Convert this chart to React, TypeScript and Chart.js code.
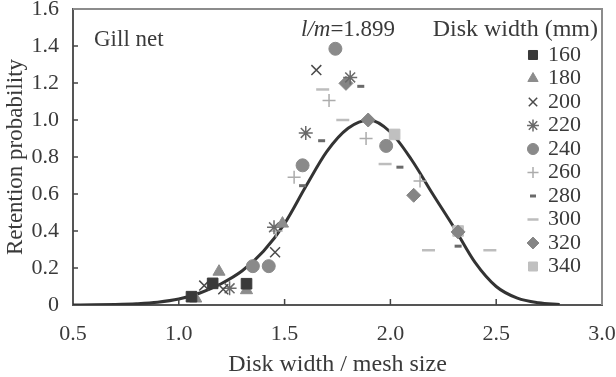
import React, { useEffect, useRef } from 'react';
import { Chart, registerables } from 'chart.js';
import { drawPoint } from 'chart.js/helpers';

Chart.register(...registerables);

// Fitted selectivity curve
const curveX = [0.5, 0.6, 0.7, 0.8, 0.9, 1.0, 1.1, 1.2, 1.3, 1.4, 1.5, 1.6, 1.7, 1.8, 1.9, 2.0, 2.1, 2.2, 2.3, 2.4, 2.5, 2.6, 2.7, 2.8];
const curveY = [0.0, 0.001, 0.003, 0.007, 0.015, 0.032, 0.065, 0.115, 0.185, 0.29, 0.44, 0.64, 0.83, 0.955, 1.0, 0.935, 0.785, 0.6, 0.42, 0.23, 0.1, 0.037, 0.012, 0.003];

// Observed retention by disk width (mm)
const seriesLabels = ['160', '180', '200', '220', '240', '260', '280', '300', '320', '340'];
const s160x = [1.06, 1.16, 1.32];
const s160y = [0.045, 0.117, 0.115];
const s180x = [1.08, 1.19, 1.32, 1.49];
const s180y = [0.035, 0.18, 0.08, 0.44];
const s200x = [1.12, 1.21, 1.455, 1.65];
const s200y = [0.105, 0.085, 0.285, 1.27];
const s220x = [1.24, 1.45, 1.60, 1.81];
const s220y = [0.09, 0.42, 0.93, 1.23];
const s240x = [1.35, 1.425, 1.585, 1.74, 1.98];
const s240y = [0.21, 0.21, 0.755, 1.385, 0.86];
const s260x = [1.46, 1.545, 1.71, 1.885, 2.14];
const s260y = [0.40, 0.69, 1.105, 0.90, 0.67];
const s280x = [1.585, 1.675, 1.86, 2.045, 2.32];
const s280y = [0.645, 0.888, 1.182, 0.745, 0.318];
const s300x = [1.68, 1.775, 1.975, 2.18, 2.47];
const s300y = [1.165, 1.0, 0.762, 0.296, 0.296];
const s320x = [1.79, 1.895, 2.11, 2.32];
const s320y = [1.198, 1.0, 0.593, 0.395];
const s340x = [2.02, 2.32];
const s340y = [0.922, 0.40];

const seriesX = [s160x, s180x, s200x, s220x, s240x, s260x, s280x, s300x, s320x, s340x];
const seriesY = [s160y, s180y, s200y, s220y, s240y, s260y, s280y, s300y, s320y, s340y];

const xTicks = [0.5, 1.0, 1.5, 2.0, 2.5, 3.0];
const yTicks = [0, 0.2, 0.4, 0.6, 0.8, 1.0, 1.2, 1.4, 1.6];

const annotationGear = 'Gill net';
const annotationModeLabel = 'l/m';
const annotationModeValue = '=1.899';
const legendTitle = 'Disk width (mm)';

const FONT = "'Liberation Serif', 'Times New Roman', Times, 'DejaVu Serif', serif";

type MarkerStyle = { pointStyle: string; radius: number; bg: string; border: string; bw: number };
const markerStyles: MarkerStyle[] = [
  { pointStyle: 'rect', radius: 7.5, bg: '#3a3a3a', border: '#3a3a3a', bw: 1 },
  { pointStyle: 'triangle', radius: 7, bg: '#8c8c8c', border: '#8c8c8c', bw: 1 },
  { pointStyle: 'crossRot', radius: 7, bg: '#4a4a4a', border: '#4a4a4a', bw: 1.5 },
  { pointStyle: 'star', radius: 7, bg: '#6a6a6a', border: '#6a6a6a', bw: 1.5 },
  { pointStyle: 'circle', radius: 6.5, bg: '#8a8a8a', border: '#8a8a8a', bw: 1 },
  { pointStyle: 'cross', radius: 6.5, bg: '#acacac', border: '#acacac', bw: 1.5 },
  { pointStyle: 'line', radius: 3.5, bg: '#6a6a6a', border: '#6a6a6a', bw: 3 },
  { pointStyle: 'line', radius: 6.5, bg: '#bdbdbd', border: '#bdbdbd', bw: 2.5 },
  { pointStyle: 'rectRot', radius: 7, bg: '#858585', border: '#858585', bw: 1 },
  { pointStyle: 'rect', radius: 7.5, bg: '#c0c0c0', border: '#c0c0c0', bw: 1 },
];

const TEXT = '#3a3a3a';

const decorPlugin = {
  id: 'decor',
  afterDraw(chart: any) {
    const { ctx, chartArea } = chart;
    const xs = chart.scales.x;
    const ys = chart.scales.y;
    ctx.save();
    // top & right frame
    ctx.strokeStyle = '#8c8c8c';
    ctx.lineWidth = 2;
    ctx.beginPath();
    ctx.moveTo(chartArea.left, chartArea.top);
    ctx.lineTo(chartArea.right, chartArea.top);
    ctx.lineTo(chartArea.right, chartArea.bottom);
    ctx.stroke();
    // inside ticks
    ctx.strokeStyle = '#444';
    ctx.lineWidth = 1.5;
    xTicks.slice(1, -1).forEach((v) => {
      const px = xs.getPixelForValue(v);
      ctx.beginPath();
      ctx.moveTo(px, chartArea.bottom);
      ctx.lineTo(px, chartArea.bottom - 6);
      ctx.stroke();
    });
    yTicks.slice(1, -1).forEach((v) => {
      const py = ys.getPixelForValue(v);
      ctx.beginPath();
      ctx.moveTo(chartArea.left, py);
      ctx.lineTo(chartArea.left + 5, py);
      ctx.stroke();
    });
    // annotations
    ctx.fillStyle = TEXT;
    ctx.textBaseline = 'middle';
    ctx.textAlign = 'left';
    ctx.font = `23px ${FONT}`;
    ctx.fillText(annotationGear, chartArea.left + 21, chartArea.top + 31);
    ctx.font = `italic 23px ${FONT}`;
    const mx = chartArea.left + 228;
    const my = chartArea.top + 21;
    ctx.fillText(annotationModeLabel, mx, my);
    const w = ctx.measureText(annotationModeLabel).width;
    ctx.font = `23px ${FONT}`;
    ctx.fillText(annotationModeValue, mx + w, my);
    // legend
    ctx.font = `24px ${FONT}`;
    ctx.textAlign = 'right';
    ctx.fillText(legendTitle, chartArea.right - 4, chartArea.top + 21);
    ctx.textAlign = 'left';
    ctx.font = `22px ${FONT}`;
    seriesLabels.forEach((lab, i) => {
      const st = markerStyles[i];
      const ly = chartArea.top + 46 + i * 23.5;
      const lx = chartArea.right - 69;
      ctx.fillStyle = st.bg;
      ctx.strokeStyle = st.border;
      ctx.lineWidth = st.bw;
      drawPoint(ctx, { pointStyle: st.pointStyle as any, rotation: 0, radius: st.radius * 0.85, borderWidth: st.bw }, lx, ly);
      ctx.fillStyle = TEXT;
      ctx.fillText(lab, lx + 15, ly);
    });
    ctx.restore();
  },
};

export default function App() {
  const ref = useRef<HTMLCanvasElement>(null);
  useEffect(() => {
    document.body.style.margin = '0';
    Chart.defaults.font.family = FONT;
    const canvas = ref.current!;
    const datasets: any[] = [
      {
        label: 'fit',
        data: curveX.map((x, i) => ({ x, y: curveY[i] })),
        showLine: true,
        borderColor: '#333333',
        borderWidth: 3,
        pointRadius: 0,
        cubicInterpolationMode: 'monotone',
        order: 2,
      },
      ...seriesLabels.map((lab, i) => ({
        label: lab,
        data: seriesX[i].map((x, j) => ({ x, y: seriesY[i][j] })),
        pointStyle: markerStyles[i].pointStyle,
        pointRadius: markerStyles[i].radius,
        pointBackgroundColor: markerStyles[i].bg,
        pointBorderColor: markerStyles[i].border,
        pointBorderWidth: markerStyles[i].bw,
        showLine: false,
        order: 1,
      })),
    ];
    const chart = new Chart(canvas, {
      type: 'scatter',
      data: { datasets },
      plugins: [decorPlugin],
      options: {
        animation: false,
        responsive: false,
        devicePixelRatio: 1,
        layout: { padding: { left: 0, top: 7, right: 14, bottom: 0 } },
        plugins: { legend: { display: false }, tooltip: { enabled: false } },
        scales: {
          x: {
            type: 'linear',
            min: 0.5,
            max: 3.0,
            afterBuildTicks: (scale: any) => {
              scale.ticks = xTicks.map((v) => ({ value: v }));
            },
            afterFit: (scale: any) => {
              scale.height = 72;
              scale.paddingLeft = 0;
              scale.paddingRight = 0;
            },
            grid: { display: false },
            border: { display: true, color: '#555', width: 2 },
            ticks: {
              color: TEXT,
              font: { family: FONT, size: 22 },
              padding: 8,
              maxRotation: 0,
              autoSkip: false,
              callback: (v: any) => Number(v).toFixed(1),
            },
            title: {
              display: true,
              text: 'Disk width / mesh size',
              color: TEXT,
              font: { family: FONT, size: 24, lineHeight: 1 },
              padding: 0,
            },
          },
          y: {
            type: 'linear',
            min: 0,
            max: 1.6,
            afterBuildTicks: (scale: any) => {
              scale.ticks = yTicks.map((v) => ({ value: v }));
            },
            afterFit: (scale: any) => {
              scale.width = 73;
              scale.paddingTop = 0;
              scale.paddingBottom = 0;
            },
            grid: { display: false },
            border: { display: true, color: '#555', width: 2 },
            ticks: {
              color: TEXT,
              font: { family: FONT, size: 22 },
              padding: 6,
              autoSkip: false,
              callback: (v: any) => (Number(v) === 0 ? '0' : Number(v).toFixed(1)),
            },
            title: {
              display: true,
              text: 'Retention probability',
              color: TEXT,
              font: { family: FONT, size: 23 },
              padding: { top: 2, bottom: 0 },
            },
          },
        },
      },
    });
    let alive = true;
    if ((document as any).fonts && (document as any).fonts.load) {
      Promise.all([
        (document as any).fonts.load(`22px 'Liberation Serif'`),
        (document as any).fonts.load(`italic 23px 'Liberation Serif'`),
      ]).then(() => {
        if (alive) chart.update();
      }, () => {});
    }
    return () => {
      alive = false;
      chart.destroy();
    };
  }, []);
  return (
    <div style={{ position: 'absolute', left: 0, top: 0, width: 616, height: 377, background: '#fff' }}>
      <canvas ref={ref} width={616} height={377} style={{ display: 'block', width: 616, height: 377 }} />
      <span style={{ position: 'absolute', left: -9999, top: 0, fontFamily: FONT }}>
        Disk <i>l/m</i>
      </span>
    </div>
  );
}
